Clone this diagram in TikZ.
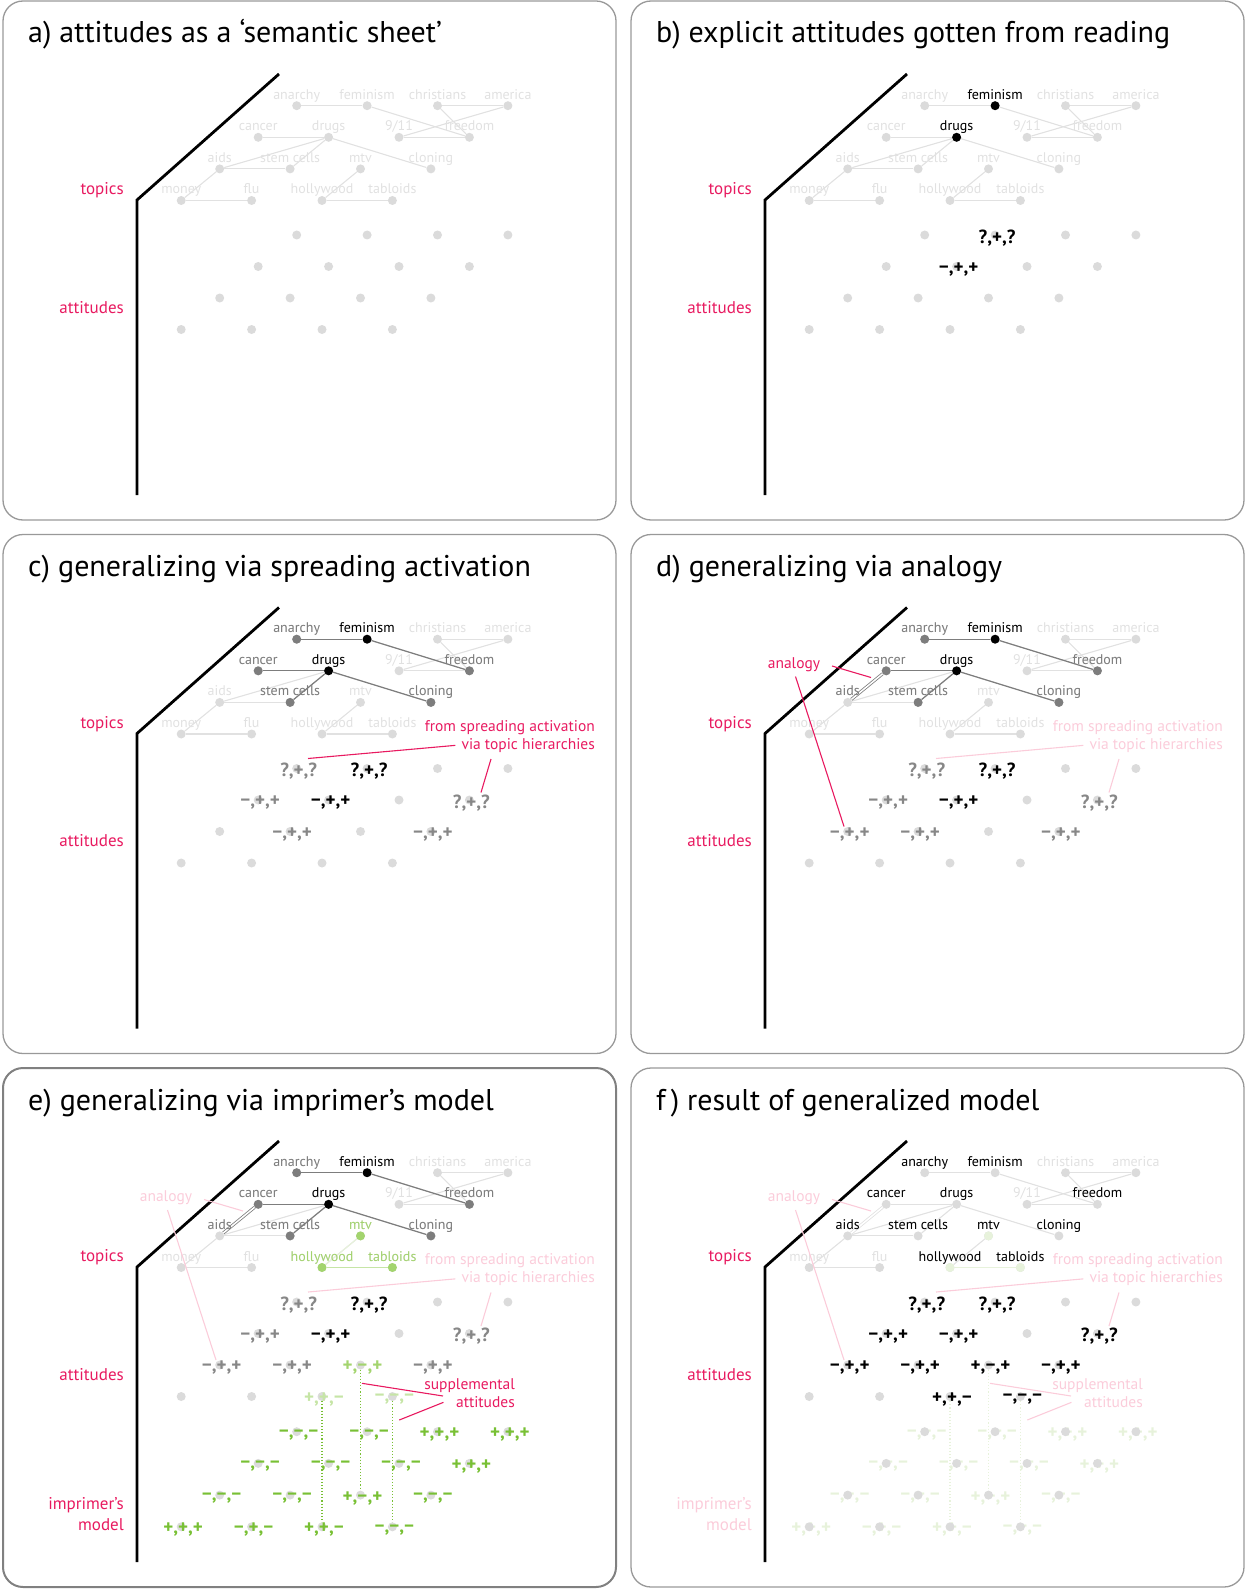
\documentclass[tikz,border=0pt]{standalone}
\usepackage{fontspec}
\setmainfont{PT Sans}
\usetikzlibrary{positioning}

\definecolor{hotpink}{RGB}{232,26,96}
\definecolor{palepink}{RGB}{251,204,218}
\definecolor{faint}{RGB}{225,225,225}
\definecolor{dotgray}{RGB}{219,219,219}
\definecolor{midgray}{RGB}{125,125,125}
\definecolor{rategray}{RGB}{135,135,135}
\definecolor{leaf}{RGB}{120,192,52}
\definecolor{paleleaf}{RGB}{163,212,110}
\definecolor{fadeleaf}{RGB}{198,229,166}
\definecolor{ghostleaf}{RGB}{231,242,219}

\tikzstyle{panel}=[draw=black!40,line width=1.3pt,rounded corners=20pt]
\tikzstyle{heading}=[anchor=base west,inner sep=0pt,font=\fontsize{30}{36}\selectfont]
\tikzstyle{axis}=[draw=black,line width=2.8pt]
\tikzstyle{dot}=[circle,fill=dotgray,minimum size=9pt,inner sep=0pt]
\tikzstyle{topic}=[anchor=base,inner sep=0pt,text=faint,font=\fontsize{14}{17}\selectfont]
\tikzstyle{link}=[draw=faint,line width=1.1pt]
\tikzstyle{hotlink}=[draw=midgray,line width=1.2pt]
\tikzstyle{rating}=[inner sep=0pt,xshift=2pt,yshift=-3pt,font=\bfseries\fontsize{19}{22}\selectfont]
\tikzstyle{side}=[anchor=base east,inner sep=0pt,text=hotpink,font=\fontsize{17}{20}\selectfont]
\tikzstyle{note}=[anchor=base east,inner sep=0pt,font=\fontsize{15.5}{18}\selectfont]
\tikzstyle{pointer}=[line width=1.1pt]
\tikzstyle{analogyline}=[draw=midgray,double=white,double distance=1.5pt,line width=0.8pt]
\tikzstyle{copyline}=[line width=1.1pt,dotted]

% imprimer's model: row/column/attitude
\def\imprint{0/0/{−,−,−}, 0/1/{−,−,−}, 0/2/{+,+,+}, 0/3/{+,+,+},
  1/0/{−,−,−}, 1/1/{−,−,−}, 1/2/{−,−,−}, 1/3/{+,+,+},
  2/0/{−,−,−}, 2/1/{−,−,−}, 2/2/{+,−,+}, 2/3/{−,−,−},
  3/0/{+,+,+}, 3/1/{−,+,−}, 3/2/{+,+,−}, 3/3/{−,−,−}}

% the common sheet: axis, topic graph and attitude grid
\newcommand{\sheet}{%
  \draw[axis] (279,74) -- (137,200) -- (137,495);
  \node[side] (topics) at (124,194.5) {topics};
  \node[side] (attitudes) at (124,313) {attitudes};
  \foreach \r/\c/\name/\word in {0/0/anarchy/anarchy, 0/1/feminism/feminism, 0/2/christians/christians, 0/3/america/america,
    1/0/cancer/cancer, 1/1/drugs/drugs, 1/2/nineeleven/{9/11}, 1/3/freedom/freedom,
    2/0/aids/aids, 2/1/stemcells/{stem cells}, 2/2/mtv/mtv, 2/3/cloning/cloning,
    3/0/money/money, 3/1/flu/flu, 3/2/hollywood/hollywood, 3/3/tabloids/tabloids}
  {
    \node[dot] (\name) at ({296.7-38.5*\r+70.4*\c},{105.7+31.6*\r}) {};
    \node[topic,yshift=6.5pt] (\name-t) at (\name) {\word};
  }
  \foreach \a/\b in {anarchy/feminism, feminism/freedom, christians/america, christians/freedom,
    america/nineeleven, nineeleven/freedom, cancer/drugs, drugs/aids, drugs/stemcells,
    drugs/cloning, aids/stemcells, aids/money, money/flu, mtv/hollywood, hollywood/tabloids}
    \draw[link] (\a) -- (\b);
  \foreach \r in {0,...,3}
    \foreach \c in {0,...,3}
      \node[dot] (att\r\c) at ({296.7-38.5*\r+70.4*\c},{235+31.5*\r}) {};
}

\begin{document}
\begin{tikzpicture}[x=1pt,y=-1pt]
\useasboundingbox (0,0) rectangle (1247,1589);

% a) the bare sheet
\begin{scope}[shift={(0,0)},name prefix=a-]
  \draw[panel] (3,1) rectangle (616,520);
  \node[heading] (title) at (28,43) {a) attitudes as a ‘semantic sheet’};
  \sheet
\end{scope}

% b) what was read
\begin{scope}[shift={(628,0)},name prefix=b-]
  \draw[panel] (3,1) rectangle (616,520);
  \node[heading] (title) at (28,43) {b) explicit attitudes gotten from reading};
  \sheet
  \foreach \name/\word/\col in {feminism/feminism/black, drugs/drugs/black}
  {
    \node[dot,fill=\col] (\name-on) at (\name) {};
    \node[topic,text=\col] (\name-lit) at (\name-t.base) {\word};
  }
  \foreach \cell/\txt/\col in {01/{?,+,?}/black, 11/{−,+,+}/black}
    \node[rating,text=\col] (rate\cell) at (att\cell) {\txt};
\end{scope}

% c) spreading activation
\begin{scope}[shift={(0,533.5)},name prefix=c-]
  \draw[panel] (3,1) rectangle (616,520);
  \node[heading] (title) at (28,43) {c) generalizing via spreading activation};
  \sheet
  \foreach \a/\b in {anarchy/feminism, feminism/freedom, cancer/drugs, drugs/stemcells, drugs/cloning}
    \draw[hotlink] (\a) -- (\b);
  \foreach \name/\word/\col in {anarchy/anarchy/midgray, cancer/cancer/midgray, stemcells/{stem cells}/midgray,
    cloning/cloning/midgray, freedom/freedom/midgray, feminism/feminism/black, drugs/drugs/black}
  {
    \node[dot,fill=\col] (\name-on) at (\name) {};
    \node[topic,text=\col] (\name-lit) at (\name-t.base) {\word};
  }
  \foreach \cell/\txt/\col in {00/{?,+,?}/rategray, 01/{?,+,?}/black, 10/{−,+,+}/rategray, 11/{−,+,+}/black,
    13/{?,+,?}/rategray, 21/{−,+,+}/rategray, 23/{−,+,+}/rategray}
    \node[rating,text=\col] (rate\cell) at (att\cell) {\txt};
  \node[note,text=hotpink] (spread1) at (595,197.5) {from spreading activation};
  \node[note,text=hotpink] (spread2) at (595,215.8) {via topic hierarchies};
  \coordinate (spread-a) at (308,225);
  \coordinate (spread-b0) at (491,225.5);
  \coordinate (spread-b) at (481,259);
  \draw[pointer,hotpink] ([xshift=-6pt]spread2.west) -- (spread-a);
  \draw[pointer,hotpink] (spread-b0) -- (spread-b);
\end{scope}

% d) analogy
\begin{scope}[shift={(628,533.5)},name prefix=d-]
  \draw[panel] (3,1) rectangle (616,520);
  \node[heading] (title) at (28,43) {d) generalizing via analogy};
  \sheet
  \foreach \a/\b in {anarchy/feminism, feminism/freedom, cancer/drugs, drugs/stemcells, drugs/cloning}
    \draw[hotlink] (\a) -- (\b);
  \draw[analogyline] (cancer) -- (aids);
  \foreach \name/\word/\col in {anarchy/anarchy/midgray, cancer/cancer/midgray, stemcells/{stem cells}/midgray,
    cloning/cloning/midgray, freedom/freedom/midgray, feminism/feminism/black, drugs/drugs/black}
  {
    \node[dot,fill=\col] (\name-on) at (\name) {};
    \node[topic,text=\col] (\name-lit) at (\name-t.base) {\word};
  }
  \node[topic,text=midgray] (aids-lit) at (aids-t.base) {aids};
  \foreach \cell/\txt/\col in {00/{?,+,?}/rategray, 01/{?,+,?}/black, 10/{−,+,+}/rategray, 11/{−,+,+}/black,
    13/{?,+,?}/rategray, 20/{−,+,+}/rategray, 21/{−,+,+}/rategray, 23/{−,+,+}/rategray}
    \node[rating,text=\col] (rate\cell) at (att\cell) {\txt};
  \node[note,text=palepink] (spread1) at (595,197.5) {from spreading activation};
  \node[note,text=palepink] (spread2) at (595,215.8) {via topic hierarchies};
  \coordinate (spread-a) at (308,225);
  \coordinate (spread-b0) at (491,225.5);
  \coordinate (spread-b) at (481,259);
  \draw[pointer,palepink] ([xshift=-6pt]spread2.west) -- (spread-a);
  \draw[pointer,palepink] (spread-b0) -- (spread-b);
  \node[note,anchor=base,text=hotpink] (analogy) at (166,134.8) {analogy};
  \coordinate (ana-a0) at (204,132.5);
  \coordinate (ana-a) at (243,144);
  \coordinate (ana-b0) at (167.5,143);
  \coordinate (ana-b) at (216,293);
  \draw[pointer,hotpink] (ana-a0) -- (ana-a);
  \draw[pointer,hotpink] (ana-b0) -- (ana-b);
\end{scope}

% e) imprimer's model
\begin{scope}[shift={(0,1067)},name prefix=e-]
  \draw[panel,draw=black!50,line width=2pt] (3,1) rectangle (616,520);
  \node[heading] (title) at (28,43) {e) generalizing via imprimer’s model};
  \sheet
  \node[side] (imprimer) at (124,442.3) {imprimer’s};
  \node[side] (model) at (124,463) {model};
  \foreach \a/\b in {anarchy/feminism, feminism/freedom, cancer/drugs, drugs/stemcells, drugs/cloning}
    \draw[hotlink] (\a) -- (\b);
  \draw[link,draw=ghostleaf] (mtv) -- (hollywood);
  \draw[link,draw=fadeleaf] (hollywood) -- (tabloids);
  \draw[analogyline] (cancer) -- (aids);
  \foreach \name/\word/\col in {anarchy/anarchy/midgray, cancer/cancer/midgray, stemcells/{stem cells}/midgray,
    cloning/cloning/midgray, freedom/freedom/midgray, feminism/feminism/black, drugs/drugs/black,
    mtv/mtv/paleleaf, hollywood/hollywood/paleleaf, tabloids/tabloids/paleleaf}
  {
    \node[dot,fill=\col] (\name-on) at (\name) {};
    \node[topic,text=\col] (\name-lit) at (\name-t.base) {\word};
  }
  \node[topic,text=midgray] (aids-lit) at (aids-t.base) {aids};
  \foreach \r/\c/\txt in \imprint
  {
    \node[dot] (imp\r\c) at ({296.7-38.5*\r+70.4*\c},{364.7+31.7*\r}) {};
    \node[rating,text=leaf] (print\r\c) at (imp\r\c) {\txt};
  }
  \foreach \cell in {22,32,33}
    \draw[copyline,leaf] (att\cell) -- (imp\cell);
  \foreach \cell/\txt/\col in {00/{?,+,?}/rategray, 01/{?,+,?}/black, 10/{−,+,+}/rategray, 11/{−,+,+}/black,
    13/{?,+,?}/rategray, 20/{−,+,+}/rategray, 21/{−,+,+}/rategray, 23/{−,+,+}/rategray,
    22/{+,−,+}/paleleaf, 32/{+,+,−}/fadeleaf, 33/{−,−,−}/fadeleaf}
    \node[rating,text=\col] (rate\cell) at (att\cell) {\txt};
  \node[note,text=palepink] (spread1) at (595,197.5) {from spreading activation};
  \node[note,text=palepink] (spread2) at (595,215.8) {via topic hierarchies};
  \coordinate (spread-a) at (308,225);
  \coordinate (spread-b0) at (491,225.5);
  \coordinate (spread-b) at (481,259);
  \draw[pointer,palepink] ([xshift=-6pt]spread2.west) -- (spread-a);
  \draw[pointer,palepink] (spread-b0) -- (spread-b);
  \node[note,anchor=base,text=palepink] (analogy) at (166,134.8) {analogy};
  \coordinate (ana-a0) at (204,132.5);
  \coordinate (ana-a) at (243,144);
  \coordinate (ana-b0) at (167.5,143);
  \coordinate (ana-b) at (216,293);
  \draw[pointer,palepink] (ana-a0) -- (ana-a);
  \draw[pointer,palepink] (ana-b0) -- (ana-b);
  \node[note,text=hotpink] (supp1) at (515,322.3) {supplemental};
  \node[note,text=hotpink] (supp2) at (515,340.3) {attitudes};
  \coordinate (supp-a0) at (443,329);
  \coordinate (supp-a) at (362,316.3);
  \coordinate (supp-b0) at (443.5,335.3);
  \coordinate (supp-b) at (399.3,353);
  \draw[pointer,hotpink] (supp-a0) -- (supp-a);
  \draw[pointer,hotpink] (supp-b0) -- (supp-b);
\end{scope}

% f) the generalized result
\begin{scope}[shift={(628,1067)},name prefix=f-]
  \draw[panel] (3,1) rectangle (616,520);
  \node[heading] (title) at (28,43) {f\,) result of generalized model};
  \sheet
  \node[side,text=palepink] (imprimer) at (124,442.3) {imprimer’s};
  \node[side,text=palepink] (model) at (124,463) {model};
  \draw[analogyline,draw=faint] (cancer) -- (aids);
  \draw[link,draw=ghostleaf] (hollywood) -- (tabloids);
  \foreach \name in {mtv,hollywood,tabloids}
    \node[dot,fill=ghostleaf] (\name-on) at (\name) {};
  \foreach \name/\word in {anarchy/anarchy, feminism/feminism, cancer/cancer, drugs/drugs, freedom/freedom,
    aids/aids, stemcells/{stem cells}, mtv/mtv, cloning/cloning, hollywood/hollywood, tabloids/tabloids}
    \node[topic,text=black] (\name-lit) at (\name-t.base) {\word};
  \foreach \r/\c/\txt in \imprint
  {
    \node[rating,text=ghostleaf] (print\r\c) at ({296.7-38.5*\r+70.4*\c},{364.7+31.7*\r}) {\txt};
    \node[dot] (imp\r\c) at ({296.7-38.5*\r+70.4*\c},{364.7+31.7*\r}) {};
  }
  \foreach \cell in {22,32,33}
    \draw[copyline,ghostleaf] (att\cell) -- (imp\cell);
  \foreach \cell/\txt in {00/{?,+,?}, 01/{?,+,?}, 10/{−,+,+}, 11/{−,+,+}, 13/{?,+,?},
    20/{−,+,+}, 21/{−,+,+}, 22/{+,−,+}, 23/{−,+,+}, 32/{+,+,−}, 33/{−,−,−}}
    \node[rating,text=black] (rate\cell) at (att\cell) {\txt};
  \node[note,text=palepink] (spread1) at (595,197.5) {from spreading activation};
  \node[note,text=palepink] (spread2) at (595,215.8) {via topic hierarchies};
  \coordinate (spread-a) at (308,225);
  \coordinate (spread-b0) at (491,225.5);
  \coordinate (spread-b) at (481,259);
  \draw[pointer,palepink] ([xshift=-6pt]spread2.west) -- (spread-a);
  \draw[pointer,palepink] (spread-b0) -- (spread-b);
  \node[note,anchor=base,text=palepink] (analogy) at (166,134.8) {analogy};
  \coordinate (ana-a0) at (204,132.5);
  \coordinate (ana-a) at (243,144);
  \coordinate (ana-b0) at (167.5,143);
  \coordinate (ana-b) at (216,293);
  \draw[pointer,palepink] (ana-a0) -- (ana-a);
  \draw[pointer,palepink] (ana-b0) -- (ana-b);
  \node[note,text=palepink] (supp1) at (515,322.3) {supplemental};
  \node[note,text=palepink] (supp2) at (515,340.3) {attitudes};
  \coordinate (supp-a0) at (443,329);
  \coordinate (supp-a) at (362,316.3);
  \coordinate (supp-b0) at (443.5,335.3);
  \coordinate (supp-b) at (399.3,353);
  \draw[pointer,palepink] (supp-a0) -- (supp-a);
  \draw[pointer,palepink] (supp-b0) -- (supp-b);
\end{scope}

\end{tikzpicture}
\end{document}
